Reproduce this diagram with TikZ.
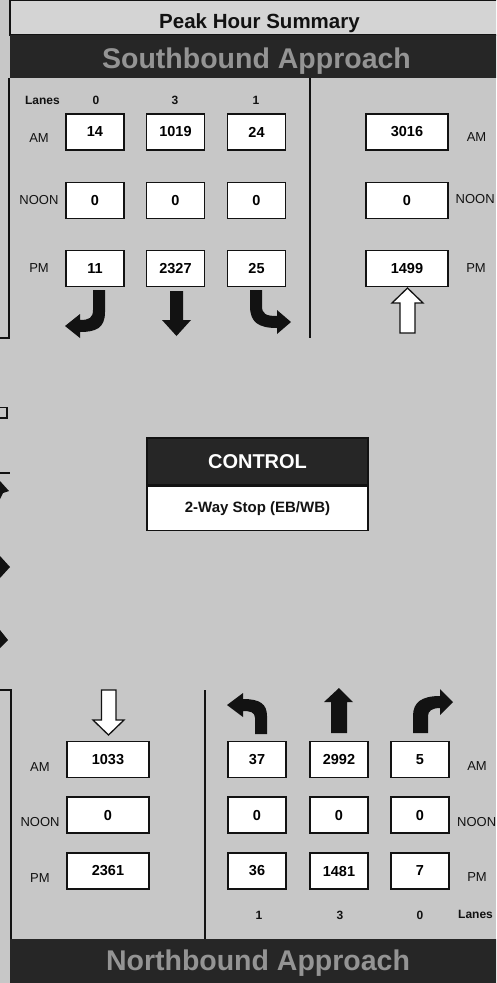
\documentclass[tikz,border=0pt]{standalone}
\usepackage{fontspec}
\setmainfont{Liberation Sans}
\definecolor{bg}{rgb}{0.78,0.78,0.78}
\definecolor{hdr}{rgb}{0.83,0.83,0.83}
\definecolor{band}{rgb}{0.15,0.15,0.15}
\definecolor{bandtext}{rgb}{0.58,0.58,0.58}
\definecolor{ink}{rgb}{0.07,0.07,0.07}
\begin{document}
\begin{tikzpicture}[x=1pt,y=-1pt,
  valbox/.style={draw=ink, line width=1.6pt, fill=white, minimum width=58pt, minimum height=36pt, inner sep=0pt, font=\fontsize{14.5}{16}\selectfont\bfseries},
  widebox/.style={valbox, minimum width=82pt},
  lbl/.style={font=\fontsize{13}{15}\selectfont, inner sep=0pt, text=ink},
  lane/.style={font=\fontsize{12}{14}\selectfont\bfseries, inner sep=0pt, text=ink},
  bandtxt/.style={font=\fontsize{28.5}{31}\selectfont\bfseries, text=bandtext, inner sep=0pt, anchor=base},
  rule/.style={draw=ink, line width=1.5pt},
  solidarrow/.style={fill=ink},
  hollowarrow/.style={draw=ink, line width=1.3pt, fill=white, line join=miter}
]
\useasboundingbox (0,0) rectangle (496,983);
\clip (0,0) rectangle (496,983);
\fill[bg] (0,0) rectangle (496,983);

% header
\draw[draw=ink, line width=1.2pt, fill=hdr] (10,0.8) rectangle (500,35);
\node[font=\fontsize{20.5}{22}\selectfont\bfseries, text=ink, anchor=base, inner sep=0pt] (title) at (259.5,28) {Peak Hour Summary};

% southbound band
\fill[band] (10,35) rectangle (500,78);
\node[bandtxt] (sbtitle) at (256.5,68) {Southbound Approach};

% northbound band
\fill[band] (10,939) rectangle (500,983);
\node[bandtxt] (nbtitle) at (258,970) {Northbound Approach};

% panel rules
\draw[rule] (310,78) -- (310,338);
\draw[rule] (205,690) -- (205,939);
\draw[rule] (9,78) -- (9,338) -- (-2,338);
\draw[rule] (-2,690) -- (11,690) -- (11,939);
\draw[rule] (-3,407.5) rectangle (7,418);
\draw[rule] (-2,473) -- (10,473);
\fill[ink] (0,481) -- (9,491) -- (3,493) -- (0,499) -- cycle;
\fill[ink] (0,556) -- (10,567) -- (0,578) -- cycle;
\fill[ink] (0,630) -- (8,640) -- (0,648) -- cycle;

% southbound: lanes
\node[lane] (sblanes) at (42.5,100) {Lanes};
\node[lane] (sbln1) at (96,100) {0};
\node[lane] (sbln2) at (175,100) {3};
\node[lane] (sbln3) at (256,100) {1};

% southbound: row labels
\node[lbl] (sbam) at (39,138) {AM};
\node[lbl] (sbnoon) at (39,200) {NOON};
\node[lbl] (sbpm) at (39,268.5) {PM};

% southbound boxes
\node[valbox] (sbl-am) at (95,132) {14};
\node[valbox] (sbt-am) at (175.5,132) {1019};
\node[valbox] (sbr-am) at (256.5,132) {24};
\node[valbox] (sbl-noon) at (95,200.5) {0};
\node[valbox] (sbt-noon) at (175.5,200.5) {0};
\node[valbox] (sbr-noon) at (256.5,200.5) {0};
\node[valbox] (sbl-pm) at (95,268.5) {11};
\node[valbox] (sbt-pm) at (175.5,268.5) {2327};
\node[valbox] (sbr-pm) at (256.5,268.5) {25};

% southbound arrows
\fill[solidarrow] (93,290) -- (105,290) -- (105,312) .. controls (105,328) and (96,332) .. (80,332) -- (80,338) -- (65,326) -- (80,314) -- (80,320) .. controls (89,320) and (93,318) .. (93,310) -- cycle;
\fill[solidarrow] (170,291) -- (183,291) -- (183,320) -- (191,320) -- (176.5,336) -- (162,320) -- (170,320) -- cycle;
\fill[solidarrow] (250,290) -- (262,290) -- (262,306) .. controls (262,314) and (266,316) .. (277,316) -- (277,310) -- (291,322) -- (277,334) -- (277,328) .. controls (258,328) and (250,322) .. (250,306) -- cycle;

% southbound departures (right)
\node[widebox] (sbd-am) at (407,132) {3016};
\node[widebox] (sbd-noon) at (407,200.5) {0};
\node[widebox] (sbd-pm) at (407,268.5) {1499};
\node[lbl] (sbdam) at (476.5,137) {AM};
\node[lbl, anchor=west] (sbdnoon) at (455.5,199.5) {NOON};
\node[lbl] (sbdpm) at (476,268) {PM};
\draw[hollowarrow] (400,333) -- (415,333) -- (415,303) -- (423,303) -- (407.5,288) -- (392,303) -- (400,303) -- cycle;

% control
\node[draw=ink, line width=1.5pt, fill=band, minimum width=221pt, minimum height=47pt, inner sep=0pt, text=white, font=\fontsize{20}{22}\selectfont\bfseries] (ctrl) at (257.5,461.5) {CONTROL};
\node[draw=ink, line width=1.5pt, fill=white, minimum width=221pt, minimum height=44pt, inner sep=0pt, text=ink, font=\fontsize{15}{17}\selectfont\bfseries, anchor=north] (ctrltype) at (ctrl.south) {2-Way Stop (EB/WB)};

% northbound departures (left)
\draw[hollowarrow] (101.5,690) -- (116,690) -- (116,720) -- (124,720) -- (108.5,735) -- (93,720) -- (101.5,720) -- cycle;
\node[widebox] (nbd-am) at (108,759.5) {1033};
\node[widebox] (nbd-noon) at (108,815) {0};
\node[widebox] (nbd-pm) at (108,871) {2361};
\node[lbl] (nbdam) at (40,767) {AM};
\node[lbl] (nbdnoon) at (40,822) {NOON};
\node[lbl] (nbdpm) at (40,878) {PM};

% northbound arrows
\fill[solidarrow] (255,734) -- (267,734) -- (267,716) .. controls (267,704) and (260,699) .. (243,699) -- (243,693) -- (227,705) -- (243,717) -- (243,711) .. controls (250,711) and (255,712) .. (255,718) -- cycle;
\fill[solidarrow] (331,733) -- (347,733) -- (347,702) -- (353,702) -- (339,688) -- (324,702) -- (331,702) -- cycle;
\fill[solidarrow] (413,733) -- (428,733) -- (428,716) .. controls (428,711) and (432,708) .. (440,708) -- (440,715) -- (453,702) -- (440,689) -- (440,696) .. controls (422,696) and (413,702) .. (413,716) -- cycle;

% northbound boxes
\node[valbox] (nbl-am) at (257,759.5) {37};
\node[valbox] (nbt-am) at (339,759.5) {2992};
\node[valbox] (nbr-am) at (420,759.5) {5};
\node[valbox] (nbl-noon) at (257,815) {0};
\node[valbox] (nbt-noon) at (339,815) {0};
\node[valbox] (nbr-noon) at (420,815) {0};
\node[valbox] (nbl-pm) at (257,871) {36};
\node[valbox] (nbt-pm) at (339,871) {1481};
\node[valbox] (nbr-pm) at (420,871) {7};
\node[lbl] (nbam) at (477,766) {AM};
\node[lbl, anchor=west] (nbnoon) at (457,822) {NOON};
\node[lbl] (nbpm) at (477,877) {PM};
\node[lane] (nbln1) at (259,915) {1};
\node[lane] (nbln2) at (340,915) {3};
\node[lane] (nbln3) at (420,915) {0};
\node[lane, anchor=west] (nblanes) at (458,914) {Lanes};
\end{tikzpicture}
\end{document}
